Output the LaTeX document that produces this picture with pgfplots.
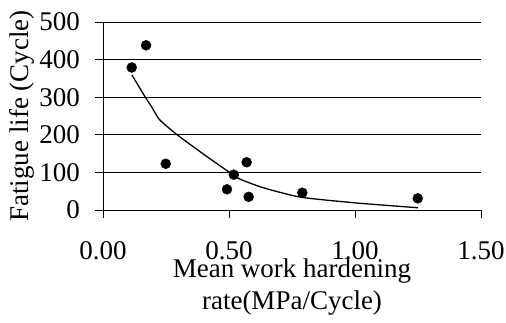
\documentclass[border=0pt]{standalone}
\usepackage{pgfplots}
\pgfplotsset{compat=1.18}
\usepackage{fontspec}
\setmainfont{Liberation Serif}
\begin{document}
\begin{tikzpicture}
\path[use as bounding box] (-103pt,-112pt) rectangle (403pt,210pt);
\begin{axis}[
  at={(0,0)}, anchor=south west, scale only axis,
  width=378pt, height=188pt,
  xmin=0, xmax=1.5, ymin=0, ymax=500,
  axis x line*=bottom, axis y line*=left,
  axis line style={-, black, line width=0.8pt},
  xtick={0,0.5,1,1.5}, ytick={0,100,200,300,400,500},
  tick align=outside, major tick length=8pt,
  tick style={black, line width=0.8pt},
  ymajorgrids, grid style={black, line width=0.8pt},
  /pgf/number format/assume math mode=true,
  xticklabel style={/pgf/number format/.cd, fixed, fixed zerofill, precision=2, /tikz/.cd,
    font=\fontsize{27pt}{30pt}\selectfont, anchor=center, inner sep=0pt, yshift=-33pt},
  yticklabel style={font=\fontsize{27pt}{30pt}\selectfont, anchor=east, inner sep=0pt, xshift=-15pt},
  xlabel={Mean work hardening\\rate(MPa/Cycle)},
  xlabel style={font=\fontsize{27pt}{32pt}\selectfont, align=center, inner sep=0pt,
    at={(axis description cs:0.5,-0.41)}, anchor=center},
  ylabel={Fatigue life (Cycle)},
  ylabel style={font=\fontsize{27pt}{30pt}\selectfont,
    at={(axis description cs:-0.2143,0.5)}, anchor=center},
  clip=false,
]
\addplot[black, line width=1.3pt, smooth, tension=0.4] coordinates {
  (0.115,359) (0.14,331) (0.167,301) (0.195,272) (0.222,242) (0.26,219)
  (0.30,197) (0.40,148) (0.517,93) (0.544,82) (0.623,62) (0.702,47)
  (0.795,33) (1.0,19) (1.25,6)
};
\addplot[only marks, mark=*, mark size=5pt, black] coordinates {
  (0.114,379) (0.171,438) (0.249,123) (0.492,55) (0.519,94)
  (0.570,127) (0.578,35) (0.791,46) (1.249,31)
};
\end{axis}
\end{tikzpicture}
\end{document}
